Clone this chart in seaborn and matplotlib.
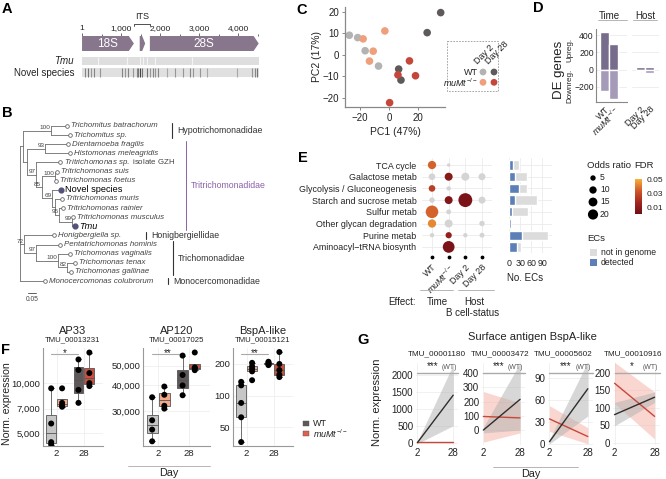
import numpy as np
import pandas as pd
import matplotlib
matplotlib.use("Agg")
import matplotlib.pyplot as plt
import matplotlib.transforms as mtransforms
import seaborn as sns
from matplotlib.patches import Polygon, Rectangle
from matplotlib.colors import LinearSegmentedColormap, Normalize
from matplotlib.cm import ScalarMappable
from matplotlib.ticker import NullLocator

W, H = 666, 479
MUMT = r"$\mathit{muMt}^{-/-}$"

# ---------------- data ----------------
# A: rRNA locus
rrna_names = ["18S", "5.8S", "28S"]
rrna_start = [1, 1480, 1740]
rrna_end = [1330, 1620, 4530]
ruler_ticks = [1, 1000, 2000, 3000, 4000]
ruler_labels = ["1", "1,000", "2,000", "3,000", "4,000"]
tmu_gaps = [410, 1150, 1490, 1560, 1670, 1870, 2820]
novel_var = [77, 162, 231, 316, 462, 1017, 1103, 1188, 1316, 1402, 1445, 1487, 1530, 1658, 1744,
             1829, 1872, 1957, 2171, 2385, 2598, 2769, 2855, 3026, 3197, 3966, 4350, 4436, 4479]
novel_shade = [0.5, 0.6, 0.4, 0.5, 0.4, 0.5, 0.4, 0.5, 0.4, 0.5, 0.6, 0.9, 0.6, 0.6, 0.4,
               0.5, 0.4, 0.5, 0.3, 0.4, 0.4, 0.5, 0.4, 0.4, 0.3, 0.3, 0.4, 0.5, 0.6]

# B: phylogeny (depth in substitutions/site)
leaves = ["Trichomitus batrachorum", "Trichomitus sp.", "Dientamoeba fragilis", "Histomonas meleagridis",
          "Tritrichomonas sp. isolate GZH", "Tritrichomonas suis", "Tritrichomonas foetus", "Novel species",
          "Tritrichomonas muris", "Tritrichomonas rainier", "Tritrichomonas musculus", "Tmu",
          "Honigbergiella sp.", "Pentatrichomonas hominis", "Trichomonas vaginalis", "Trichomonas tenax",
          "Trichomonas gallinae", "Monocercomonas colubrorum"]
leaf_depth = [0.294, 0.3125, 0.30, 0.3125, 0.25, 0.231, 0.225, 0.256, 0.2625, 0.269, 0.333, 0.344,
              0.2125, 0.25, 0.3125, 0.344, 0.319, 0.156]
tree_nodes = {
    "root": (0.0, ["n1", "n72", "Monocercomonas colubrorum"], None),
    "n1": (0.019, ["nhyp", "n2"], None),
    "nhyp": (0.194, ["Trichomitus batrachorum", "Trichomitus sp."], "100"),
    "n2": (0.044, ["ndh", "ntri"], None),
    "ndh": (0.156, ["Dientamoeba fragilis", "Histomonas meleagridis"], "93"),
    "ntri": (0.10, ["Tritrichomonas sp. isolate GZH", "n3"], "97"),
    "n3": (0.1375, ["nsf", "n4"], "85"),
    "nsf": (0.219, ["Tritrichomonas suis", "Tritrichomonas foetus"], "100"),
    "n4": (0.20, ["Novel species", "n5"], "69"),
    "n5": (0.219, ["Tritrichomonas muris", "n6"], None),
    "n6": (0.244, ["Tritrichomonas rainier", "n7"], "95"),
    "n7": (0.325, ["Tritrichomonas musculus", "Tmu"], "99"),
    "n72": (0.025, ["Honigbergiella sp.", "n97"], "72"),
    "n97": (0.10, ["Pentatrichomonas hominis", "n100"], "97"),
    "n100": (0.2375, ["Trichomonas vaginalis", "n82"], "100"),
    "n82": (0.294, ["Trichomonas tenax", "Trichomonas gallinae"], "82"),
}
families = ["Hypotrichomonadidae", "Tritrichomonadidae", "Honigbergiellidae", "Trichomonadidae", "Monocercomonadidae"]
fam_first = [0, 2, 12, 13, 17]
fam_last = [1, 11, 12, 16, 17]

# C: PCA
pca_group = ["WT_2"] * 4 + ["WT_28"] * 4 + ["mu_2"] * 4 + ["mu_28"] * 4
pc1 = [-27.5, -21.7, -16.5, -7.2, 36, 26.6, 6.8, 8.4, -17.9, -2.8, -10.9, -13.5, 14.3, 6.3, 18.5, 0.5]
pc2 = [9.1, 8, 1.9, -5.2, 19.6, 10.3, -6.6, -11.7, 7.4, 11.1, 1.7, -2.9, -2.8, -9.3, -9.7, -22.2]

# D: DE genes
de_labels = ["WT", MUMT, "Day 2", "Day 28"]
de_up = [430, 295, 25, 35]
de_down = [-245, -340, -20, -45]

# E: pathway enrichment
pathways = ["TCA cycle", "Galactose metab", "Glycolysis / Gluconeogenesis", "Starch and sucrose metab",
            "Sulfur metab", "Other glycan degradation", "Purine metab", "Aminoacyl\u2212tRNA biosynth"]
effects = ["WT", MUMT, "Day 2", "Day 28"]
nan = np.nan
odds_wt = [13, 8, 8, 5, 31, 13, 3, nan]
odds_mu = [1.5, 12, 3, 12, 4, 12, 7, 27]
odds_d2 = [nan, 12, nan, 38, nan, nan, 3, nan]
odds_d28 = [nan, 9, nan, 9, nan, 5, 4, nan]
fdr_wt = [0.035, nan, 0.025, nan, 0.035, 0.042, nan, nan]
fdr_mu = [nan, 0.008, nan, 0.006, nan, nan, 0.012, 0.004]
fdr_d2 = [nan, nan, nan, 0.004, nan, nan, nan, nan]
fdr_d28 = [nan] * 8
ec_total = [26, 47, 49, 75, 51, 6, 105, 33]
ec_detected = [11, 15, 26, 16, 7, 5, 34, 20]

# F: boxplots
f_genes = ["AP33", "AP120", "BspA-like"]
f_ids = ["TMU_00013231", "TMU_00017025", "TMU_00015121"]
ap33_wt2 = [9300, 5700, 4400, 4250]
ap33_mu2 = [9300, 7600, 7300, 7200]
ap33_wt28 = [13900, 12000, 9100, 7600]
ap33_mu28 = [15300, 11500, 10000, 9600]
ap120_wt2 = [35000, 27000, 24300, 21300]
ap120_mu2 = [39500, 36000, 31800, 30800]
ap120_wt28 = [56000, 45000, 40000, 35800]
ap120_mu28 = [58000, 49000, 48500, 47500]
bspa_wt2 = [135, 125, 85, 62, 36]
bspa_mu2 = [205, 190, 180, 170, 140]
bspa_wt28 = [210, 205, 200, 195]
bspa_mu28 = [260, 200, 175, 158, 150]
f_sig = ["*", "**", "**"]

# G: regression lines
g_ids = ["TMU_00001180", "TMU_00003472", "TMU_00005602", "TMU_00010916"]
g_days = [2, 28]
g_wt = [[0, 1400], [0, 215], [3, 75], [80, 130]]
g_wt_lo = [[-30, 500], [-20, 0], [0, 38], [48, 115]]
g_wt_hi = [[30, 2300], [20, 470], [6, 112], [115, 145]]
g_mu = [[5, 5], [95, 85], [34, 10], [170, 75]]
g_mu_lo = [[-10, -10], [-85, -20], [17, 0], [112, 10]]
g_mu_hi = [[20, 20], [270, 190], [52, 22], [230, 145]]
g_sig = ["***", "***", "***", "*"]

# ---------------- style ----------------
sns.set_theme(style="white")
plt.rcParams["font.family"] = ["Liberation Sans", "DejaVu Sans"]
plt.rcParams["mathtext.fontset"] = "custom"
plt.rcParams["mathtext.rm"] = "Liberation Sans"
plt.rcParams["mathtext.it"] = "Liberation Sans:italic"
plt.rcParams["text.color"] = "#222222"
plt.rcParams["axes.labelcolor"] = "#222222"
plt.rcParams["xtick.color"] = "#222222"
plt.rcParams["ytick.color"] = "#222222"

fig = plt.figure(figsize=(W / 100, H / 100), dpi=100)


def add_ax(x0, y0, x1, y1):
    return fig.add_axes([x0 / W, 1 - y1 / H, (x1 - x0) / W, (y1 - y0) / H])


ov = add_ax(0, 0, W, H)
ov.set_xlim(0, W)
ov.set_ylim(H, 0)
ov.axis("off")
ov.set_zorder(10)
ov.patch.set_visible(False)

for lab, x, y in [("A", 7, 9), ("B", 7, 113), ("C", 302, 10), ("D", 538, 8), ("E", 303, 158),
                  ("F", 5, 350), ("G", 363, 340)]:
    ov.text(x, y, lab, fontsize=10.5, fontweight="bold", ha="center", va="center", color="black")

grid_col = "#ebebeb"

# ---------------- A ----------------
rrna_col = "#87768c"
axA = add_ax(82, 36, 262, 80)
axA.set_xlim(0, 4615)
axA.set_ylim(44, 0)
for name, s, e in zip(rrna_names, rrna_start, rrna_end):
    head = min(130, (e - s) * 0.55)
    verts = [(s, 0), (e - head, 0), (e, 7.5), (e - head, 15), (s, 15)]
    axA.add_patch(Polygon(verts, closed=True, fc=rrna_col, ec="none"))
    if name != "5.8S":
        axA.text((s + e) / 2, 8, name, color="white", ha="center", va="center", fontsize=8.5)
axA.add_patch(Rectangle((0, 20.7), rrna_end[-1], 8.3, fc="#dedede", ec="none"))
axA.vlines(tmu_gaps, 20.7, 29, colors="#f4f4f4", lw=0.8)
axA.add_patch(Rectangle((0, 32.3), rrna_end[-1], 9, fc="#e0e0e0", ec="none"))
axA.vlines(novel_var, 32.3, 41.3, colors=[str(round(0.85 - 0.65 * s, 2)) for s in novel_shade], lw=0.8)
axA.plot([rrna_end[0], rrna_end[0], rrna_start[2], rrna_start[2]], [-10, -12, -12, -10],
         color="#333", lw=0.6, clip_on=False)
axA.text((rrna_end[0] + rrna_start[2]) / 2, -15, "ITS", ha="center", va="bottom", fontsize=6.5)
axA.xaxis.tick_top()
axA.set_xticks(ruler_ticks, ruler_labels)
axA.set_xticks([500, 1500, 2500, 3500, 4500], minor=True)
axA.tick_params(axis="x", which="both", top=True, bottom=False, length=2.5, width=0.6,
                color="#555", labelsize=6, pad=0.5)
axA.tick_params(axis="x", which="minor", length=1.5)
axA.set_yticks([])
for sp in axA.spines.values():
    sp.set_visible(False)
ov.text(74, 61, "Tmu", ha="right", va="center", fontsize=7, style="italic")
ov.text(74, 73, "Novel species", ha="right", va="center", fontsize=7)

# ---------------- B ----------------
axB = add_ax(20, 118, 330, 300)
axB.set_xlim(0, 310 / 160)
axB.set_ylim(19.08, -0.877)
axB.axis("off")
depth = dict(zip(leaves, leaf_depth))
ypos = {name: i for i, name in enumerate(leaves)}
for node in tree_nodes:
    depth[node] = tree_nodes[node][0]


def node_y(n):
    if n in ypos:
        return ypos[n]
    ys = [node_y(c) for c in tree_nodes[n][1]]
    ypos[n] = (min(ys) + max(ys)) / 2
    return ypos[n]


node_y("root")
tcol = "#6b6b6b"
for n, (d, kids, sup) in tree_nodes.items():
    ky = [ypos[k] for k in kids]
    axB.plot([d, d], [min(ky), max(ky)], color=tcol, lw=0.6)
    for k in kids:
        axB.plot([d, depth[k]], [ypos[k], ypos[k]], color=tcol, lw=0.6)
    if sup:
        axB.text(d - 0.004, ypos[n] - 0.05, sup, ha="right", va="bottom", fontsize=4.6, color="#444")
for i, name in enumerate(leaves):
    d = leaf_depth[i]
    if name in ("Novel species", "Tmu"):
        axB.scatter([d], [i], s=12, color="#55527a", zorder=3)
        axB.text(d + 0.025, i, name, va="center", fontsize=6.6, color="black",
                 style="italic" if name == "Tmu" else "normal")
    else:
        axB.scatter([d], [i], s=7, facecolor="white", edgecolor="#666", lw=0.6, zorder=3)
        lab = name
        if name.endswith("isolate GZH"):
            lab = r"$\mathit{Tritrichomonas\ sp.}$ isolate GZH"
        axB.text(d + 0.025, i, lab, va="center", fontsize=5.7, color="#444",
                 style="normal" if name.endswith("GZH") else "italic")
fam_bar_px = [172, 186, 146, 173, 168]
for fam, a, b, bx in zip(families, fam_first, fam_last, fam_bar_px):
    col = "#8a62a8" if fam == "Tritrichomonadidae" else "#333"
    xd = (bx - 20) / 160
    axB.plot([xd, xd], [a - 0.35, b + 0.35], color=col, lw=0.8 if col == "#333" else 0.7)
    axB.text(xd + 5 / 160, (a + b) / 2, fam, va="center", fontsize=6.3, color=col)
axB.plot([8 / 160, 16 / 160], [18.3, 18.3], color="#444", lw=0.6)
axB.text(12 / 160, 18.6, "0.05", ha="center", va="top", fontsize=4.8, color="#444")

# ---------------- C ----------------
pca_pal = {"WT_2": "#b3b3b3", "WT_28": "#5f5a5a", "mu_2": "#eea07d", "mu_28": "#c5473a"}
axC = add_ax(345, 7, 445, 107)
sns.scatterplot(x=pc1, y=pc2, hue=pca_group, palette=pca_pal, s=30, edgecolor="none",
                legend=False, ax=axC)
axC.set_xlim(-30.5, 39)
axC.set_ylim(-24.2, 22.2)
axC.set_xticks([-20, 0, 20])
axC.set_yticks([-20, -10, 0, 10, 20])
sns.despine(ax=axC)
for sp in ("left", "bottom"):
    axC.spines[sp].set_color("#888")
    axC.spines[sp].set_linewidth(0.9)
axC.tick_params(length=2.5, width=0.7, color="#888", labelsize=7, pad=1.5, left=True, bottom=True)
axC.set_xlabel("PC1 (47%)", fontsize=7.5, labelpad=3)
axC.set_ylabel("PC2 (17%)", fontsize=7.5, labelpad=1)
ov.add_patch(Rectangle((447, 41), 51, 50, fill=False, ls=(0, (2, 1.5)), lw=0.6, ec="#999"))
for (key, cx, cy) in [("WT_2", 483, 72), ("WT_28", 494, 72), ("mu_2", 483, 82.3), ("mu_28", 494, 82.3)]:
    ov.scatter([cx], [cy], s=24, color=pca_pal[key], edgecolor="none")
ov.text(478, 72, "WT", ha="right", va="center", fontsize=6.5)
ov.text(478, 82.5, MUMT, ha="right", va="center", fontsize=6.5)
ov.text(479, 66, "Day 2", rotation=45, ha="left", va="bottom", rotation_mode="anchor", fontsize=6.5)
ov.text(490, 66, "Day 28", rotation=45, ha="left", va="bottom", rotation_mode="anchor", fontsize=6.5)

# ---------------- D ----------------
up_col, down_col = "#786c8c", "#a59bb9"
axD1 = add_ax(596, 29, 627, 102)
axD2 = add_ax(632, 29, 659, 102)
for ax, sl, xl in [(axD1, slice(0, 2), (-1.0, 2.5)), (axD2, slice(2, 4), (-0.94, 2.06))]:
    sns.barplot(x=de_labels[sl], y=de_up[sl], color=up_col, saturation=1, width=1.0, ax=ax)
    sns.barplot(x=de_labels[sl], y=de_down[sl], color=down_col, saturation=1, width=1.0, ax=ax)
    ax.set_xlim(*xl)
    ax.set_ylim(-375, 470)
    ax.set_yticks([-200, 0, 200, 400])
    ax.grid(axis="y", color=grid_col, lw=0.6)
    ax.set_axisbelow(True)
    ax.tick_params(axis="x", labelsize=6.5, length=0, pad=2)
    plt.setp(ax.get_xticklabels(), rotation=45, ha="right", rotation_mode="anchor")
    for sp in ax.spines.values():
        sp.set_visible(False)
axD1.tick_params(axis="y", labelsize=6.2, length=0, pad=1.5)
axD1.spines["left"].set_visible(True)
axD1.spines["bottom"].set_visible(True)
for sp in ("left", "bottom"):
    axD1.spines[sp].set_color("#888")
    axD1.spines[sp].set_linewidth(0.8)
axD2.set_yticklabels([])
axD2.tick_params(axis="y", length=0)
ov.text(609, 15.5, "Time", ha="center", va="center", fontsize=7)
ov.plot([598, 627], [20, 20], color="#aaa", lw=0.6)
ov.text(645, 15.5, "Host", ha="center", va="center", fontsize=7)
ov.plot([633, 657], [20, 20], color="#aaa", lw=0.6)
ov.text(559, 70, "DE genes", rotation=90, ha="center", va="center", fontsize=9.5)
ov.text(570, 50, "Upreg.", rotation=90, ha="center", va="center", fontsize=5.8)
ov.text(570, 86, "Downreg.", rotation=90, ha="center", va="center", fontsize=5.8)

# ---------------- E ----------------
fdr_cmap = LinearSegmentedColormap.from_list("fdr", ["#6e0f16", "#a3261f", "#d0592a", "#f7b13a"])
fdr_norm = Normalize(0, 0.05)
size_norm = (1, 40)
size_rng = (4.7, 105)
rows = []
for ci, (od, fd) in enumerate([(odds_wt, fdr_wt), (odds_mu, fdr_mu), (odds_d2, fdr_d2), (odds_d28, fdr_d28)]):
    for ri in range(len(pathways)):
        if not np.isnan(od[ri]):
            rows.append({"col": ci, "row": ri, "odds": od[ri], "fdr": fd[ri]})
df_e = pd.DataFrame(rows)
axE = add_ax(422, 158, 492, 253)
ns = df_e[df_e["fdr"].isna()]
sg = df_e[df_e["fdr"].notna()]
sns.scatterplot(data=ns, x="col", y="row", size="odds", sizes=size_rng, size_norm=size_norm,
                color="#d4d4d4", edgecolor="none", legend=False, ax=axE, zorder=3)
sns.scatterplot(data=sg, x="col", y="row", size="odds", sizes=size_rng, size_norm=size_norm,
                hue="fdr", palette=fdr_cmap, hue_norm=fdr_norm, edgecolor="none", legend=False,
                ax=axE, zorder=4)
axE.set_xlim(-0.6, 3.6)
axE.set_ylim(7.52, -0.6)
axE.set_xticks(range(len(effects)), effects)
axE.set_yticks(range(len(pathways)), pathways)
axE.grid(True, color=grid_col, lw=0.6)
axE.set_axisbelow(True)
axE.set_xlabel("")
axE.set_ylabel("")
for sp in axE.spines.values():
    sp.set_visible(False)
axE.tick_params(axis="y", length=0, labelsize=6.4, pad=4)
axE.tick_params(axis="x", length=0, labelsize=6.4, pad=7)
plt.setp(axE.get_xticklabels(), rotation=45, ha="right", va="top", rotation_mode="anchor")
axE.scatter(range(len(effects)), [7.88] * len(effects), s=3, color="black", clip_on=False)

axEb = add_ax(508, 158, 552, 253)
sns.barplot(x=ec_total, y=pathways, orient="h", color="#dcdcdc", saturation=1, width=0.8, ax=axEb)
sns.barplot(x=ec_detected, y=pathways, orient="h", color="#5b7fb6", saturation=1, width=0.8, ax=axEb)
axEb.set_xlim(-3.5, 116)
axEb.set_ylim(7.52, -0.6)
axEb.set_xticks([0, 30, 60, 90])
axEb.set_yticklabels([])
axEb.grid(True, color=grid_col, lw=0.6)
axEb.set_axisbelow(True)
for sp in axEb.spines.values():
    sp.set_visible(False)
axEb.tick_params(length=0, labelsize=6.4, pad=4)
ov.text(525, 278, "No. ECs", ha="center", va="center", fontsize=7)

ov.text(416, 302, "Effect:", ha="right", va="center", fontsize=7)
ov.plot([420, 453], [290, 290], color="#aaa", lw=0.6)
ov.plot([458, 494], [290, 290], color="#aaa", lw=0.6)
ov.text(437, 302, "Time", ha="center", va="center", fontsize=7)
ov.text(474, 302, "Host", ha="center", va="center", fontsize=7)
ov.text(473, 313, "B cell-status", ha="center", va="center", fontsize=7)

# E legends
ov.text(587, 165, "Odds ratio", ha="left", va="center", fontsize=6.8)
for o, yy in zip([5, 10, 15, 20], [178, 190, 202, 214.5]):
    s = size_rng[0] + (o - size_norm[0]) * (size_rng[1] - size_rng[0]) / (size_norm[1] - size_norm[0])
    ov.scatter([593], [yy], s=s, color="black", edgecolor="none")
    ov.text(600, yy, str(o), ha="left", va="center", fontsize=6.2)
ov.text(634, 165, "FDR", ha="left", va="center", fontsize=6.8)
cax = add_ax(635, 179, 642, 214)
cb = fig.colorbar(ScalarMappable(norm=fdr_norm, cmap=fdr_cmap), cax=cax)
cb.outline.set_visible(False)
cb.set_ticks([0.01, 0.03, 0.05])
cb.ax.tick_params(length=2, color="white", labelsize=6, pad=1.5)
ov.text(587, 238, "ECs", ha="left", va="center", fontsize=6.8)
ov.add_patch(Rectangle((590, 249), 7, 7, fc="#dcdcdc", ec="none"))
ov.add_patch(Rectangle((590, 259), 7, 7, fc="#5b7fb6", ec="none"))
ov.text(601, 252.5, "not in genome", ha="left", va="center", fontsize=6.2)
ov.text(601, 262.5, "detected", ha="left", va="center", fontsize=6.2)

# ---------------- F ----------------
box_cols = {(0, "WT"): "#c6c6c6", (0, "mu"): "#f3a98c", (1, "WT"): "#5f5858", (1, "mu"): "#c9503f"}
f_sets = [
    (ap33_wt2, ap33_mu2, ap33_wt28, ap33_mu28, (4170, 16300), [5000, 7000, 10000], ["5,000", "7,000", "10,000"]),
    (ap120_wt2, ap120_mu2, ap120_wt28, ap120_mu28, (20200, 61000), [30000, 40000, 50000], ["30,000", "40,000", "50,000"]),
    (bspa_wt2, bspa_mu2, bspa_wt28, bspa_mu28, (33, 284), [50, 100, 200], ["50", "100", "200"]),
]
f_axes_px = [(43, 103), (143, 210), (233, 293)]
for gi, (wt2, mu2, wt28, mu28, ylim, yt, ytl) in enumerate(f_sets):
    x0, x1 = f_axes_px[gi]
    ax = add_ax(x0, 348, x1, 446)
    recs = []
    for vals, day, geno in [(wt2, "2", "WT"), (mu2, "2", "mu"), (wt28, "28", "WT"), (mu28, "28", "mu")]:
        recs += [{"day": day, "geno": geno, "expr": v} for v in vals]
    df_f = pd.DataFrame(recs)
    ax.set_yscale("log")
    sns.boxplot(data=df_f, x="day", y="expr", hue="geno", order=["2", "28"], hue_order=["WT", "mu"],
                width=0.8, gap=0.1, showfliers=False, linewidth=0.6, linecolor="#555",
                legend=False, ax=ax)
    for p in ax.patches:
        verts = p.get_path().vertices
        cx = (verts[:, 0].min() + verts[:, 0].max()) / 2
        day_i = int(round(cx))
        p.set_facecolor(box_cols[(day_i, "WT" if cx < day_i else "mu")])
    sns.stripplot(data=df_f, x="day", y="expr", hue="geno", order=["2", "28"], hue_order=["WT", "mu"],
                  dodge=True, jitter=False, palette={"WT": "black", "mu": "black"}, size=4.3,
                  legend=False, ax=ax, zorder=4)
    ax.set_xlim(-0.5, 1.7)
    ax.set_ylim(*ylim)
    ax.set_yticks(yt, ytl)
    ax.yaxis.set_minor_locator(NullLocator())
    ax.set_xlabel("")
    ax.set_ylabel("")
    ax.grid(True, color=grid_col, lw=0.5)
    ax.set_axisbelow(True)
    sns.despine(ax=ax)
    for sp in ("left", "bottom"):
        ax.spines[sp].set_color("#999")
        ax.spines[sp].set_linewidth(0.8)
    ax.tick_params(length=0, labelsize=6.8, pad=2)
    tr = mtransforms.blended_transform_factory(ax.transData, ax.transAxes)
    ax.plot([-0.2, 0.8], [0.936, 0.936], color="#aaa", lw=0.8, transform=tr, clip_on=False)
    ax.text(0.3, 0.95, f_sig[gi], ha="center", va="center", fontsize=7, transform=tr)
    cxp = (x0 + x1) / 2
    ov.text(cxp, 331.5, f_genes[gi], ha="center", va="center", fontsize=8)
    ov.text(cxp, 340, f_ids[gi], ha="center", va="center", fontsize=5.6)
ov.text(7, 404, "Norm. expression", rotation=90, ha="center", va="center", fontsize=7.6)
ov.plot([128, 210], [466, 466], color="#aaa", lw=0.6)
ov.text(169, 473.5, "Day", ha="center", va="center", fontsize=7.8)
ov.add_patch(Rectangle((303, 420.5), 6, 5.5, fc=box_cols[(1, "WT")], ec="#555", lw=0.3))
ov.add_patch(Rectangle((303, 430.5), 6, 5.5, fc="#e0604f", ec="#555", lw=0.3))
ov.text(313, 423.3, "WT", ha="left", va="center", fontsize=6.5)
ov.text(313, 433.3, MUMT, ha="left", va="center", fontsize=6.5)

# ---------------- G ----------------
g_axes_px = [(416, 458), (482, 525), (548, 593), (613, 660)]
g_title_x = [437, 500, 563, 633]
g_ylims = [(-70, 2350), (-105, 470), (-1.5, 110), (-7, 228)]
g_yticks = [[0, 500, 1000, 1500, 2000], [0, 100, 200, 300, 400], [0, 30, 60, 90], [0, 50, 100, 150, 200]]
for gi in range(len(g_ids)):
    x0, x1 = g_axes_px[gi]
    ax = add_ax(x0, 363, x1, 445)
    ax.fill_between(g_days, g_mu_lo[gi], g_mu_hi[gi], color="#f3a898", alpha=0.45, lw=0)
    ax.fill_between(g_days, g_wt_lo[gi], g_wt_hi[gi], color="#b0b0b0", alpha=0.5, lw=0)
    sns.lineplot(x=g_days, y=g_mu[gi], color="#c8473a", lw=1.0, ax=ax)
    sns.lineplot(x=g_days, y=g_wt[gi], color="#2e2e2e", lw=1.0, ax=ax)
    ax.set_xlim(1.0, 31.5)
    ax.set_ylim(*g_ylims[gi])
    ax.set_xticks(g_days)
    ax.set_yticks(g_yticks[gi])
    ax.grid(True, color=grid_col, lw=0.5)
    ax.set_axisbelow(True)
    for sp in ax.spines.values():
        sp.set_visible(False)
    ax.tick_params(length=0, labelsize=7, pad=2)
    tr = mtransforms.blended_transform_factory(ax.transData, ax.transAxes)
    ax.plot([2, 31.5], [0.88, 0.88], color="#aaa", lw=1.0, transform=tr, clip_on=False)
    ax.text(13, 0.905, g_sig[gi], ha="center", va="bottom", fontsize=7, transform=tr)
    ax.text(25, 0.9, "(WT)", ha="center", va="bottom", fontsize=5, transform=tr, color="#555")
    ov.text(g_title_x[gi], 353.5, g_ids[gi], ha="center", va="center", fontsize=5.9)
ov.text(532, 337, "Surface antigen BspA-like", ha="center", va="center", fontsize=8)
ov.text(377, 402, "Norm. expression", rotation=90, ha="center", va="center", fontsize=8)
ov.plot([493, 578], [466.7, 466.7], color="#aaa", lw=0.6)
ov.text(531, 474, "Day", ha="center", va="center", fontsize=7.8)

fig.savefig("out.png", dpi=100)
